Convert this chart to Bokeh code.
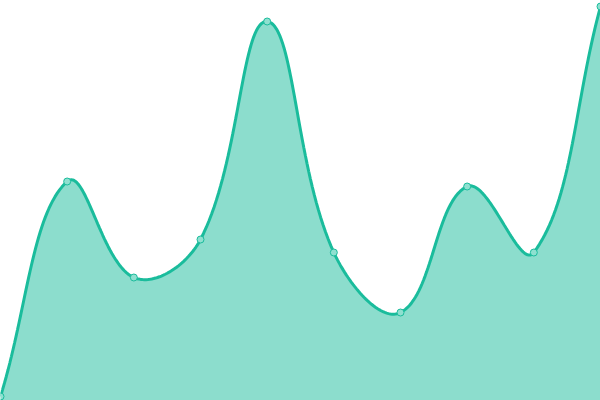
import numpy as np
from bokeh.plotting import figure
from bokeh.models import Range1d
from bokeh.embed import file_html
from bokeh.resources import INLINE

# Data (10 evenly spaced points)
categories = list(range(10))
values = [4, 219, 123, 161, 379, 148, 88, 214, 148, 394]

LINE_COLOR = "#1abc9c"
FILL_COLOR = "#1abc9c"
MARKER_FILL = "#8fe0d0"

W, H = 600, 400
Y_MIN, Y_MAX = 0, 400
TENSION = 0.4


def smooth_curve(xs, ys, tension=TENSION, steps=40):
    """Chart.js-style cardinal spline, computed in screen space."""
    n = len(xs)
    sx = W / (xs[-1] - xs[0])
    sy = H / (Y_MAX - Y_MIN)
    px = np.array([(x - xs[0]) * sx for x in xs], dtype=float)
    py = np.array([(y - Y_MIN) * sy for y in ys], dtype=float)
    cp_prev, cp_next = [], []
    for i in range(n):
        a = i - 1 if i > 0 else i
        c = i + 1 if i < n - 1 else i
        d01 = np.hypot(px[i] - px[a], py[i] - py[a])
        d12 = np.hypot(px[c] - px[i], py[c] - py[i])
        tot = d01 + d12
        s01 = d01 / tot if tot else 0
        s12 = d12 / tot if tot else 0
        fa, fb = tension * s01, tension * s12
        dx, dy = px[c] - px[a], py[c] - py[a]
        cp_prev.append((px[i] - fa * dx, min(max(py[i] - fa * dy, 0), H)))
        cp_next.append((px[i] + fb * dx, min(max(py[i] + fb * dy, 0), H)))
    out_x, out_y = [], []
    t = np.linspace(0, 1, steps)
    for i in range(n - 1):
        p0 = np.array([px[i], py[i]])
        p1 = np.array(cp_next[i])
        p2 = np.array(cp_prev[i + 1])
        p3 = np.array([px[i + 1], py[i + 1]])
        tt = t if i == 0 else t[1:]
        b = ((1 - tt) ** 3)[:, None] * p0 + (3 * (1 - tt) ** 2 * tt)[:, None] * p1 \
            + (3 * (1 - tt) * tt ** 2)[:, None] * p2 + (tt ** 3)[:, None] * p3
        out_x.extend(b[:, 0] / sx + xs[0])
        out_y.extend(b[:, 1] / sy + Y_MIN)
    return out_x, out_y


cx, cy = smooth_curve(categories, values)

p = figure(width=W, height=H, output_backend="svg", toolbar_location=None,
           x_range=Range1d(categories[0], categories[-1]),
           y_range=Range1d(Y_MIN, Y_MAX), min_border=0)
p.axis.visible = False
p.grid.visible = False
p.outline_line_color = None
p.background_fill_color = "white"
p.border_fill_color = "white"

p.varea(x=cx, y1=[Y_MIN] * len(cx), y2=cy, fill_color=FILL_COLOR, fill_alpha=0.5)
p.line(cx, cy, line_color=LINE_COLOR, line_width=3)
p.scatter(categories, values, size=7, marker="circle",
          fill_color=MARKER_FILL, line_color=LINE_COLOR, line_width=1)

open("out.html", "w").write(file_html(p, INLINE))
